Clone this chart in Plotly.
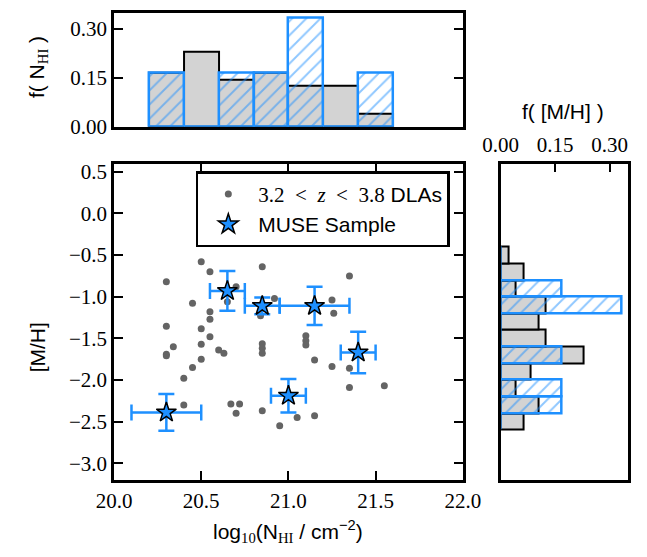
import numpy as np
import plotly.graph_objects as go

# ---- 3.2 < z < 3.8 DLA comparison sample: log N(HI) and [M/H] ----
dla_logN = [20.50, 20.55, 20.30, 20.85, 21.35, 20.70, 20.45, 20.65, 20.92, 21.25,
            20.55, 20.55, 20.84, 21.26, 20.30, 20.50, 20.55, 21.10, 21.10, 21.10,
            20.34, 20.30, 20.30, 20.50, 20.60, 20.63, 20.85, 20.85, 20.85, 20.50,
            20.45, 20.40, 21.15, 21.25, 21.35, 21.35, 21.55, 20.40, 20.67, 20.72,
            20.70, 20.85, 21.05, 21.15, 20.95]
dla_mh = [-0.58, -0.70, -0.82, -0.64, -0.75, -0.88, -1.08, -1.06, -1.02, -1.04,
          -1.18, -1.27, -1.23, -1.20, -1.355, -1.385, -1.48, -1.47, -1.53, -1.58,
          -1.60, -1.69, -1.71, -1.57, -1.64, -1.68, -1.565, -1.62, -1.68, -1.75,
          -1.85, -1.98, -1.76, -1.84, -1.86, -2.09, -2.07, -2.30, -2.29, -2.29,
          -2.40, -2.37, -2.45, -2.43, -2.55]

# ---- MUSE sample with uncertainties ----
muse_logN = [20.30, 20.65, 20.85, 21.15, 21.00, 21.40]
muse_mh = [-2.39, -0.93, -1.11, -1.11, -2.19, -1.67]
muse_logN_err = [0.20, 0.10, 0.10, 0.20, 0.10, 0.10]
muse_mh_err = [0.22, 0.24, 0.10, 0.23, 0.20, 0.25]

# ---- normalised histograms (counts per bin) ----
nhi_edges = [20.2, 20.4, 20.6, 20.8, 21.0, 21.2, 21.4, 21.6]
nhi_counts_dla = [8, 11, 7, 8, 6, 6, 2]
nhi_counts_muse = [1, 0, 1, 1, 2, 0, 1]

mh_edges = [-2.6, -2.4, -2.2, -2.0, -1.8, -1.6, -1.4, -1.2, -1.0, -0.8, -0.6, -0.4]
mh_counts_dla = [3, 5, 2, 4, 11, 6, 5, 6, 2, 3, 1]
mh_counts_muse = [0, 1, 1, 0, 1, 0, 0, 2, 1, 0, 0]

n_dla_total = 48
n_muse_total = 6

nhi_frac_dla = np.array(nhi_counts_dla) / n_dla_total
nhi_frac_muse = np.array(nhi_counts_muse) / n_muse_total
mh_frac_dla = np.array(mh_counts_dla) / n_dla_total
mh_frac_muse = np.array(mh_counts_muse) / n_muse_total

nhi_centres = 0.5 * (np.array(nhi_edges[:-1]) + np.array(nhi_edges[1:]))
nhi_width = np.diff(nhi_edges)
mh_centres = 0.5 * (np.array(mh_edges[:-1]) + np.array(mh_edges[1:]))
mh_width = np.diff(mh_edges)

BLUE = "#1e90ff"
GREY_DOT = "#646464"
GREY_BAR = "#d3d3d3"
SERIF = "Liberation Serif"
SANS = "Liberation Sans"

W, H = 647, 557


def px_x(p):
    return p / W


def px_y(p):
    return (H - p) / H


fig = go.Figure()

# main scatter panel
fig.add_trace(go.Scatter(
    x=dla_logN, y=dla_mh, mode="markers",
    marker=dict(color=GREY_DOT, size=7),
    name=(f'<span style="font-family:{SERIF}">3.2&#8197;&#8197;&lt;&#8197;&#8197;<i>z</i>'
          f'&#8197;&#8197;&lt;&#8197;&#8197;3.8</span> DLAs'),
    xaxis="x", yaxis="y", showlegend=True,
))
fig.add_trace(go.Scatter(
    x=muse_logN, y=muse_mh, mode="markers",
    marker=dict(symbol="star", color=BLUE, size=15, line=dict(color="black", width=1.5)),
    error_x=dict(type="data", array=muse_logN_err, color=BLUE, thickness=2.5, width=8),
    error_y=dict(type="data", array=muse_mh_err, color=BLUE, thickness=2.5, width=8),
    name="MUSE Sample", xaxis="x", yaxis="y", showlegend=True,
))

hatch = dict(shape="/", fgcolor=BLUE, bgcolor="rgba(0,0,0,0)",
             size=10, solidity=0.2, fillmode="overlay")

# top histogram: N(HI)
fig.add_trace(go.Bar(
    x=nhi_centres, y=nhi_frac_dla, width=nhi_width,
    marker=dict(color=GREY_BAR, line=dict(color="black", width=2)),
    xaxis="x2", yaxis="y2", showlegend=False,
))
fig.add_trace(go.Bar(
    x=nhi_centres, y=nhi_frac_muse, width=nhi_width,
    marker=dict(color="rgba(0,0,0,0)", line=dict(color=BLUE, width=2.5), pattern=hatch),
    xaxis="x2", yaxis="y2", showlegend=False,
))

# right histogram: [M/H]
fig.add_trace(go.Bar(
    y=mh_centres, x=mh_frac_dla, width=mh_width, orientation="h",
    marker=dict(color=GREY_BAR, line=dict(color="black", width=2)),
    xaxis="x3", yaxis="y3", showlegend=False,
))
fig.add_trace(go.Bar(
    y=mh_centres, x=mh_frac_muse, width=mh_width, orientation="h",
    marker=dict(color="rgba(0,0,0,0)", line=dict(color=BLUE, width=2.5), pattern=hatch),
    xaxis="x3", yaxis="y3", showlegend=False,
))

main_xdom = [px_x(101.7), px_x(471)]
main_ydom = [px_y(490), px_y(165)]
top_ydom = [px_y(127.3), px_y(10)]
right_xdom = [px_x(511), px_x(645.7)]

frame = dict(showline=True, linecolor="black", linewidth=2.5, showgrid=False,
             zeroline=False)
tick = dict(ticks="inside", ticklen=9, tickwidth=1.5, tickcolor="black",
            tickfont=dict(family=SERIF, size=21, color="black"))

fig.update_layout(
    width=W, height=H,
    margin=dict(l=0, r=0, t=0, b=0),
    paper_bgcolor="white", plot_bgcolor="white",
    barmode="overlay", bargap=0,
    xaxis=dict(domain=main_xdom, anchor="y", range=[20, 22],
               tickvals=[20.0, 20.5, 21.0, 21.5, 22.0], tickformat=".1f",
               mirror="ticks", **frame, **tick),
    yaxis=dict(domain=main_ydom, anchor="x", range=[-3.2, 0.6],
               tickvals=[-3.0, -2.5, -2.0, -1.5, -1.0, -0.5, 0.0, 0.5], tickformat=".1f",
               mirror="ticks", **frame, **tick),
    xaxis2=dict(domain=main_xdom, anchor="y2", range=[20, 22], matches="x",
                showticklabels=False, ticks="", mirror=True, **frame),
    yaxis2=dict(domain=top_ydom, anchor="x2", range=[0, 0.35],
                tickvals=[0.0, 0.15, 0.30], tickformat=".2f",
                mirror="ticks", **frame, **tick),
    xaxis3=dict(domain=right_xdom, anchor="y3", range=[0, 0.35], side="top",
                tickvals=[0.0, 0.15, 0.30], tickformat=".2f",
                mirror=True, **frame, **tick),
    yaxis3=dict(domain=main_ydom, anchor="x3", range=[-3.2, 0.6], matches="y",
                showticklabels=False, ticks="", mirror=True, **frame),
    legend=dict(x=px_x(188.3), y=px_y(173), xanchor="left", yanchor="top",
                bordercolor="black", borderwidth=2.5, bgcolor="white",
                font=dict(family=SANS, size=21, color="black"),
                itemwidth=50, tracegroupgap=0),
    font=dict(family=SANS, color="black"),
)

title_font = dict(family=SANS, size=21, color="black")
fig.add_annotation(
    text=f'log<sub><span style="font-family:{SERIF}">10</span></sub>(N<sub><span style="font-family:{SERIF}">HI</span></sub> / cm<sup>−2</sup>)',
    x=px_x(286), y=px_y(543), xref="paper", yref="paper",
    showarrow=False, font=title_font, xanchor="center", yanchor="middle")
fig.add_annotation(
    text="[M/H]", x=px_x(21), y=px_y(354), xref="paper", yref="paper",
    showarrow=False, font=title_font, textangle=-90, xanchor="center", yanchor="middle")
fig.add_annotation(
    text=f'f( N<sub><span style="font-family:{SERIF}">HI</span></sub> )',
    x=px_x(21), y=px_y(66), xref="paper", yref="paper",
    showarrow=False, font=title_font, textangle=-90, xanchor="center", yanchor="middle")
fig.add_annotation(
    text="f( [M/H] )", x=px_x(577), y=px_y(112), xref="paper", yref="paper",
    showarrow=False, font=title_font, xanchor="center", yanchor="middle")

fig.write_html("out.html")
